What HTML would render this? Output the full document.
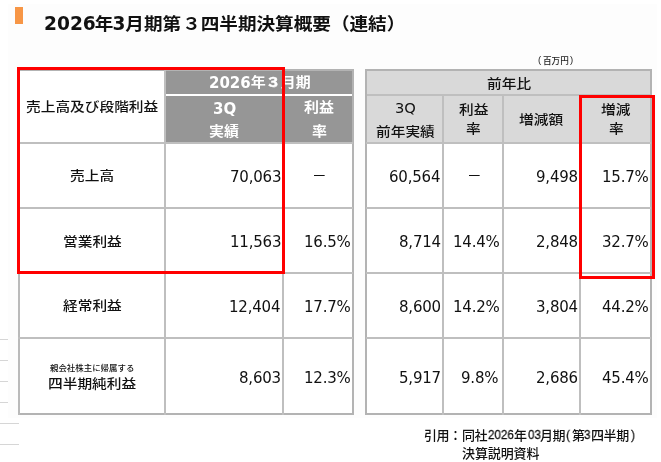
<!DOCTYPE html>
<html lang="ja">
<head>
<meta charset="utf-8">
<title>2026年3月期第３四半期決算概要（連結）</title>
<style>
*{margin:0;padding:0;box-sizing:border-box}
html,body{width:661px;height:462px;background:#fff;overflow:hidden}
body{position:relative;font-family:"DejaVu Sans","Noto Sans CJK JP",sans-serif;color:#111}
.a{position:absolute}
.x{position:absolute;white-space:nowrap;line-height:20px;will-change:transform}
.slide{left:8px;top:4px;width:649px;height:414px;background:#fdfdfd}
.bar{left:15px;top:7px;width:8px;height:17px;background:#f79646}
.title{font-size:18.6px;font-weight:bold;line-height:26px;color:#111}
.hl{background:#bfbfbf}
.ob{background:#b3b3b3}
.dk{background:#969696}
.lt{background:#d9d9d9}
.red{border:3px solid #ff0000}
.r{font-size:14.7px;color:#111}
.k{display:inline-block;transform:scaleY(0.88)}
.r .k{font-weight:500}
.kt{display:inline-block;transform:scaleY(0.93)}
.w{font-size:15px;color:#fff;font-weight:bold}
.n{font-size:15px;color:#111;letter-spacing:-0.2px}
.s{font-size:8.45px;color:#111;font-weight:500}
.u{font-size:8.6px;color:#222;font-weight:500;font-family:"Noto Sans CJK JP",sans-serif}
.up{font-size:9.5px;color:#222;font-family:"Liberation Sans",sans-serif}
.fj{font-family:"Noto Sans CJK JP",sans-serif;font-size:13px;letter-spacing:-0.4px;color:#111;font-weight:500}
.fd{font-family:"Liberation Sans",sans-serif;font-size:13px;color:#111;transform:scaleX(0.89);transform-origin:0 0;-webkit-text-stroke:0.3px #111}
</style>
</head>
<body>
<div class="a slide"></div>
<div class="a bar"></div>
<div class="a" style="left:0;top:339px;width:8px;height:1px;background:#d6d6d6"></div>
<div class="a" style="left:0;top:360px;width:8px;height:1px;background:#d6d6d6"></div>
<div class="a" style="left:0;top:381px;width:8px;height:1px;background:#d6d6d6"></div>
<div class="a" style="left:0;top:402px;width:8px;height:1px;background:#d6d6d6"></div>
<div class="a" style="left:0;top:423px;width:19px;height:1px;background:#d6d6d6"></div>
<div class="a" style="left:0;top:444px;width:19px;height:1px;background:#d6d6d6"></div>
<div class="a" style="left:18px;top:69px;width:336px;height:346px;background:#fff"></div>
<div class="a dk" style="left:164px;top:69px;width:190px;height:74px"></div>
<div class="a" style="left:166px;top:94px;width:186px;height:2px;background:#fff"></div>
<div class="a ob" style="left:17px;top:69px;width:337px;height:2px"></div>
<div class="a ob" style="left:18px;top:413px;width:336px;height:2px"></div>
<div class="a ob" style="left:18px;top:69px;width:2px;height:346px;background:#bababa"></div>
<div class="a ob" style="left:352px;top:69px;width:2px;height:346px"></div>
<div class="a hl" style="left:164px;top:69px;width:2px;height:346px"></div>
<div class="a hl" style="left:282px;top:142px;width:2px;height:273px"></div>
<div class="a hl" style="left:18px;top:142px;width:335px;height:2px"></div>
<div class="a hl" style="left:18px;top:207px;width:335px;height:2px"></div>
<div class="a hl" style="left:18px;top:272px;width:335px;height:2px"></div>
<div class="a hl" style="left:18px;top:337px;width:335px;height:2px"></div>
<div class="a" style="left:365px;top:69px;width:287px;height:346px;background:#fff"></div>
<div class="a lt" style="left:365px;top:69px;width:287px;height:74px"></div>
<div class="a hl" style="left:366px;top:94px;width:285px;height:2px"></div>
<div class="a ob" style="left:365px;top:69px;width:287px;height:2px"></div>
<div class="a ob" style="left:365px;top:413px;width:287px;height:2px"></div>
<div class="a ob" style="left:365px;top:69px;width:2px;height:346px"></div>
<div class="a ob" style="left:650px;top:69px;width:2px;height:346px"></div>
<div class="a hl" style="left:442px;top:94px;width:2px;height:321px"></div>
<div class="a hl" style="left:502px;top:94px;width:2px;height:321px"></div>
<div class="a hl" style="left:579px;top:94px;width:2px;height:321px"></div>
<div class="a hl" style="left:366px;top:142px;width:285px;height:2px"></div>
<div class="a hl" style="left:366px;top:207px;width:285px;height:2px"></div>
<div class="a hl" style="left:366px;top:272px;width:285px;height:2px"></div>
<div class="a hl" style="left:366px;top:337px;width:285px;height:2px"></div>
<div class="x title" style="left:43px;top:11px"><span style="position:relative;left:1px">2026</span><span class="kt" style="letter-spacing:-1px">年</span>3<span class="kt">月期</span><span class="kt" style="letter-spacing:1px">第</span><span class="kt">３四半期決算概要（連結）</span></div>
<div class="x up" style="left:538.2px;top:50px">(</div>
<div class="x u" style="left:542.5px;top:50px">百万円</div>
<div class="x up" style="left:570.2px;top:50px">)</div>
<div class="x r" style="left:25.7px;top:97.0px"><span class="k">売上高及び段階利益</span></div>
<div class="x w" style="left:208.7px;top:73.0px">2026<span class="k">年<span style="-webkit-text-stroke:0.6px #fff">３</span>月期</span></div>
<div class="x w" style="left:212.9px;top:99.0px">3Q</div>
<div class="x w" style="left:209.0px;top:122.0px"><span class="k">実績</span></div>
<div class="x w" style="left:304.0px;top:98.0px"><span class="k">利益</span></div>
<div class="x w" style="left:311.8px;top:122.0px"><span class="k">率</span></div>
<div class="x r" style="left:70.2px;top:166.0px"><span class="k">売上高</span></div>
<div class="x r" style="left:63.2px;top:232.0px"><span class="k">営業利益</span></div>
<div class="x r" style="left:62.8px;top:296.0px"><span class="k">経常利益</span></div>
<div class="x s" style="left:49.6px;top:358.0px">親会社株主に帰属する</div>
<div class="x r" style="left:47.9px;top:374.0px"><span class="k">四半期純利益</span></div>
<div class="x r" style="left:487.3px;top:74.0px"><span class="k">前年比</span></div>
<div class="x r" style="left:394.6px;top:98.0px">3Q</div>
<div class="x r" style="left:376.2px;top:122.0px"><span class="k">前年実績</span></div>
<div class="x r" style="left:458.6px;top:100.0px"><span class="k">利益</span></div>
<div class="x r" style="left:466.0px;top:119.0px"><span class="k">率</span></div>
<div class="x r" style="left:519.4px;top:110.0px"><span class="k">増減額</span></div>
<div class="x r" style="left:601.0px;top:100.0px"><span class="k">増減</span></div>
<div class="x r" style="left:608.5px;top:119.0px"><span class="k">率</span></div>
<div class="x r" style="left:311.5px;top:166.0px">－</div>
<div class="x r" style="left:467.0px;top:166.0px">－</div>
<div class="x n" style="right:380.1px;top:167.0px;text-align:right">70,063</div>
<div class="x n" style="right:380.1px;top:232.0px;text-align:right">11,563</div>
<div class="x n" style="right:381.1px;top:297.0px;text-align:right">12,404</div>
<div class="x n" style="right:380.1px;top:368.0px;text-align:right">8,603</div>
<div class="x n" style="right:310.1px;top:232.0px;text-align:right">16.5%</div>
<div class="x n" style="right:310.1px;top:297.0px;text-align:right">17.7%</div>
<div class="x n" style="right:310.1px;top:368.0px;text-align:right">12.3%</div>
<div class="x n" style="right:220.3px;top:167.0px;text-align:right">60,564</div>
<div class="x n" style="right:220.3px;top:232.0px;text-align:right">8,714</div>
<div class="x n" style="right:220.3px;top:297.0px;text-align:right">8,600</div>
<div class="x n" style="right:220.3px;top:368.0px;text-align:right">5,917</div>
<div class="x n" style="right:161.4px;top:232.0px;text-align:right">14.4%</div>
<div class="x n" style="right:161.4px;top:297.0px;text-align:right">14.2%</div>
<div class="x n" style="right:162.4px;top:368.0px;text-align:right">9.8%</div>
<div class="x n" style="right:83.0px;top:167.0px;text-align:right">9,498</div>
<div class="x n" style="right:83.0px;top:232.0px;text-align:right">2,848</div>
<div class="x n" style="right:83.0px;top:297.0px;text-align:right">3,804</div>
<div class="x n" style="right:83.0px;top:368.0px;text-align:right">2,686</div>
<div class="x n" style="right:12.6px;top:167.0px;text-align:right">15.7%</div>
<div class="x n" style="right:12.6px;top:232.0px;text-align:right">32.7%</div>
<div class="x n" style="right:12.6px;top:297.0px;text-align:right">44.2%</div>
<div class="x n" style="right:12.6px;top:368.0px;text-align:right">45.4%</div>
<div class="x fj" style="left:424px;top:425px">引用</div>
<div class="x fj" style="left:449.3px;top:425px">：</div>
<div class="x fj" style="left:462px;top:425px">同社</div>
<div class="x fd" style="left:488.1px;top:425px">2026</div>
<div class="x fj" style="left:513.5px;top:425px">年</div>
<div class="x fd" style="left:528px;top:425px">03</div>
<div class="x fj" style="left:539.9px;top:425px">月期</div>
<div class="x fd" style="left:566.3px;top:425px">(</div>
<div class="x fj" style="left:571.7px;top:425px">第</div>
<div class="x fd" style="left:583.8px;top:425px">3</div>
<div class="x fj" style="left:591px;top:425px">四半期</div>
<div class="x fd" style="left:631.4px;top:425px">)</div>
<div class="x fj" style="left:462px;top:442.5px;letter-spacing:-0.1px">決算説明資料</div>
<div class="a red" style="left:17px;top:67px;width:268px;height:207px"></div>
<div class="a red" style="left:579px;top:95px;width:76px;height:184px"></div>
</body>
</html>
